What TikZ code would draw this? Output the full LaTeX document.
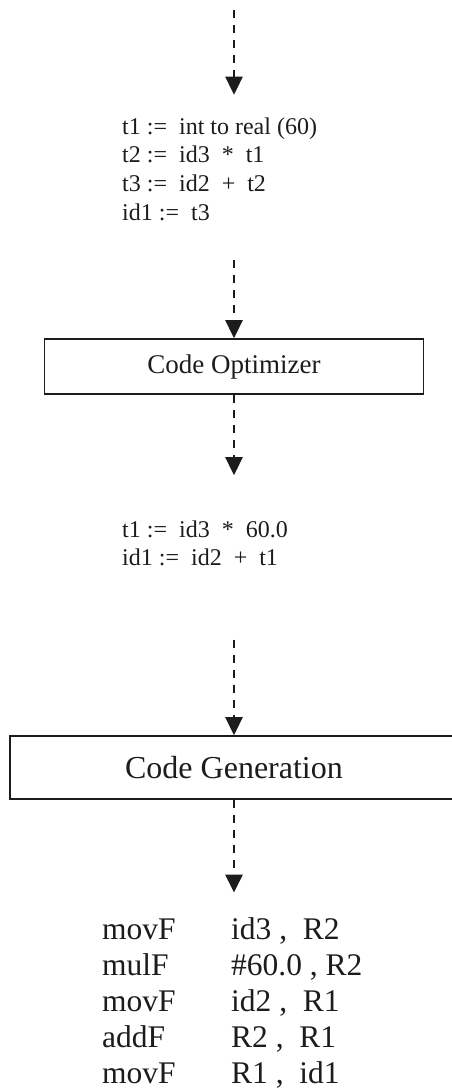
\documentclass[tikz,border=0pt]{standalone}
\usepackage{fontspec}
\setmainfont{Liberation Serif}
\usepackage{tikz}
\usetikzlibrary{arrows.meta,positioning}
\usepackage{xcolor}
\definecolor{codeink}{RGB}{28,28,28}
\tikzstyle{flow} = [line width=2.6pt,dash pattern=on 8pt off 7pt,-{Triangle[width=17pt,length=18pt]},color=codeink]
\tikzstyle{phase} = [draw=codeink,line width=1.6pt,rectangle,inner sep=0pt,text=codeink]
\tikzstyle{code} = [anchor=base west,inner sep=0pt,text=codeink]

\begin{document}
\begin{tikzpicture}[x=1pt,y=-1pt]
\useasboundingbox (0,0) rectangle (452,1088);

% Intermediate code
\coordinate (src) at (234,10);
\node[code,font=\fontsize{24}{28.7}\selectfont] (ir) at (122,134) {%
\begin{tabular}[t]{@{}l@{}}
t1 :=~~int to real (60)\\
t2 :=~~id3~~*~~t1\\
t3 :=~~id2~~+~~t2\\
id1 :=~~t3
\end{tabular}};

% Optimizer
\node[phase,minimum width=379pt,minimum height=55pt,font=\fontsize{27}{31}\selectfont] (opt) at (234,366.5) {Code Optimizer};

% Optimized code
\node[code,font=\fontsize{24}{28}\selectfont] (low) at (122,537) {%
\begin{tabular}[t]{@{}l@{}}
t1 :=~~id3~~*~~60.0\\
id1 :=~~id2~~+~~t1
\end{tabular}};

% Generator
\node[phase,minimum width=448pt,minimum height=63pt,font=\fontsize{32}{36}\selectfont] (gen) at (234,767.5) {Code Generation};

% Target code
\node[code,font=\fontsize{31.5}{36}\selectfont] (tgt) at (102,939) {%
\begin{tabular}[t]{@{}p{129pt}@{}l@{}}
movF & id3 ,~~R2\\
mulF & \#60.0 , R2\\
movF & id2 ,~~R1\\
addF & R2 ,~~R1\\
movF & R1 ,~~id1
\end{tabular}};

% Arrows
\draw[flow,shorten >=19pt] (src) -- (src |- ir.north);
\draw[flow,shorten <=31pt] (opt.north |- ir.south) -- (opt.north);
\draw[flow,shorten >=42pt] (opt.south) -- (opt.south |- low.north);
\draw[flow,shorten <=66pt] (gen.north |- low.south) -- (gen.north);
\draw[flow,shorten >=21pt] (gen.south) -- (gen.south |- tgt.north);
\end{tikzpicture}
\end{document}
